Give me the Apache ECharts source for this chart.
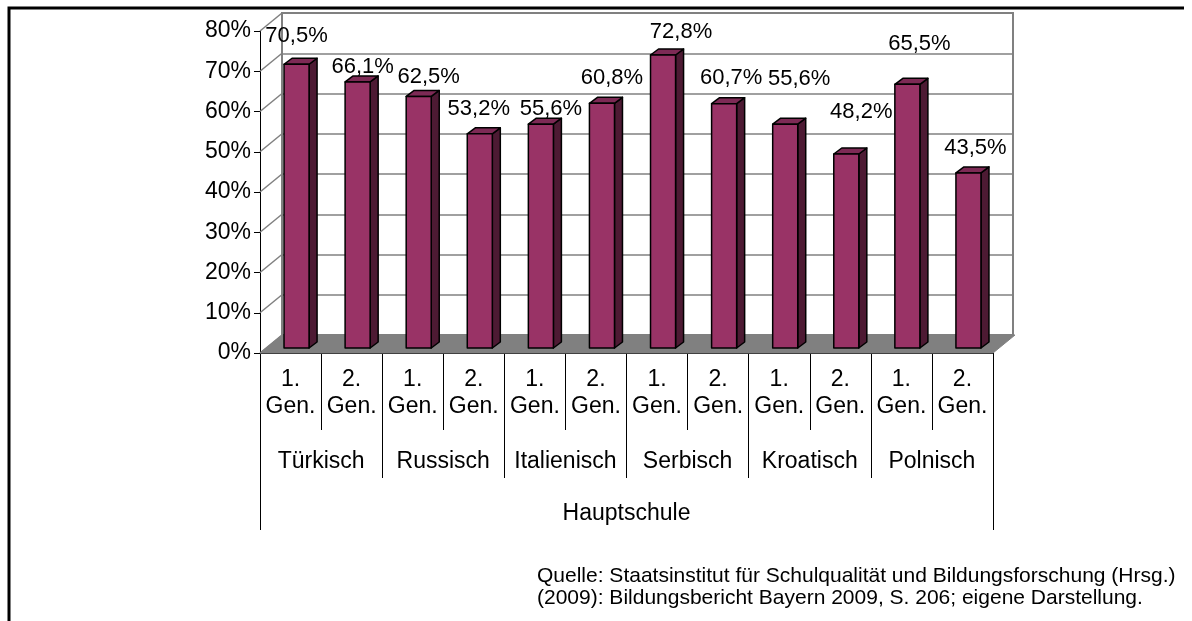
<!DOCTYPE html>
<html>
<head>
<meta charset="utf-8">
<script src="https://cdn.jsdelivr.net/npm/echarts@6/dist/echarts.min.js"></script>
<style>
  html, body { margin: 0; background: #fff; }
  #chart { width: 1192px; height: 621px; }
</style>
</head>
<body>
<div id="chart"></div>
<script>
  const groups = ['Türkisch', 'Russisch', 'Italienisch', 'Serbisch', 'Kroatisch', 'Polnisch'];
  const generations = ['1. Gen.', '2. Gen.'];
  const schoolType = ['Hauptschule'];
  const values = [70.5, 66.1, 62.5, 53.2, 55.6, 60.8, 72.8, 60.7, 55.6, 48.2, 65.5, 43.5];
  const yTicks = [0, 10, 20, 30, 40, 50, 60, 70, 80];
  const sourceLines = [
    'Quelle: Staatsinstitut für Schulqualität und Bildungsforschung (Hrsg.)',
    '(2009): Bildungsbericht Bayern 2009, S. 206; eigene Darstellung.'
  ];

  // label nudges, as placed in the original chart
  const labelShift = [[0, -28], [5, -15], [10, -20], [-1, -25], [10, -15], [10, -25],
    [18, -23], [7, -26], [14, -45], [15, -42], [12, -40], [7, -25]];

  const categories = [];
  groups.forEach(() => generations.forEach(g => categories.push(g)));

  const FONT = 'Liberation Sans, Arial, sans-serif';
  const DEPTH = [22, -18];   // front -> back wall
  const BAR_DEPTH = [8, -6];

  let myChart = echarts.init(document.getElementById('chart'));

  myChart.setOption({
    animation: false,
    textStyle: {fontFamily: FONT, color: '#000'},
    title: {
      text: sourceLines.join('\n'),
      left: 537,
      top: 565,
      padding: 0,
      textStyle: {fontSize: 21, fontWeight: 'normal', lineHeight: 22, color: '#000', fontFamily: FONT}
    },
    graphic: [{
      type: 'polyline',
      shape: {points: [[9, 621], [9, 8], [1184, 8]]},
      style: {stroke: '#000', lineWidth: 3, fill: null}
    }],
    grid: [
      {left: 282, top: 13, width: 731, height: 322, show: true, backgroundColor: '#fff', borderColor: '#808080', borderWidth: 2},
      {left: 260, top: 31, width: 733, height: 322},
      {left: 266, top: 26, width: 733, height: 322}
    ],
    xAxis: [
      {gridIndex: 0, type: 'category', data: categories, show: false},
      {
        gridIndex: 1, type: 'category', data: categories, position: 'bottom',
        axisLine: {show: true, lineStyle: {color: '#000', width: 1}},
        axisTick: {show: true, interval: 0, length: 77, lineStyle: {color: '#000'}},
        axisLabel: {interval: 0, margin: 13, fontSize: 23, lineHeight: 27, color: '#000',
          formatter: v => v.replace(' ', '\n')}
      },
      {
        gridIndex: 1, type: 'category', data: groups, position: 'bottom', offset: 0,
        axisLine: {show: false},
        axisTick: {show: true, interval: 0, length: 125, lineStyle: {color: '#000'}},
        axisLabel: {interval: 0, margin: 97, fontSize: 23, color: '#000'}
      },
      {
        gridIndex: 1, type: 'category', data: schoolType, position: 'bottom', offset: 0,
        axisLine: {show: false},
        axisTick: {show: true, interval: 0, length: 177, lineStyle: {color: '#000'}},
        axisLabel: {interval: 0, margin: 149, fontSize: 23, color: '#000'}
      },
      {gridIndex: 2, type: 'category', data: categories, show: false}
    ],
    yAxis: [
      {
        gridIndex: 0, type: 'value', min: 0, max: 80, interval: 10,
        axisLine: {show: false}, axisTick: {show: false}, axisLabel: {show: false},
        splitLine: {show: true, lineStyle: {color: '#808080', width: 1.5}}
      },
      {
        gridIndex: 1, type: 'value', min: 0, max: 80, interval: 10,
        axisLine: {show: true, lineStyle: {color: '#000', width: 1}},
        axisTick: {show: true, length: 6, lineStyle: {color: '#000'}},
        axisLabel: {margin: 9, fontSize: 23, color: '#000', formatter: '{value}%'},
        splitLine: {show: false}
      },
      {gridIndex: 2, type: 'value', min: 0, max: 80, show: false}
    ],
    series: [
      {
        // floor
        type: 'custom', xAxisIndex: 1, yAxisIndex: 1, z: 3, silent: true,
        data: [[0, 0]],
        renderItem(params, api) {
          const c = params.coordSys;
          const yb = api.coord([0, 0])[1];
          return {
            type: 'polygon',
            shape: {points: [[c.x, yb], [c.x + c.width, yb],
              [c.x + c.width + DEPTH[0], yb + DEPTH[1]], [c.x + DEPTH[0], yb + DEPTH[1]]]},
            style: {fill: '#808080', stroke: '#808080', lineWidth: 1}
          };
        }
      },
      {
        // side wall grid lines from the front axis to the back wall
        type: 'custom', xAxisIndex: 1, yAxisIndex: 1, z: 3, silent: true,
        data: yTicks.map(v => [0, v]),
        renderItem(params, api) {
          const x0 = params.coordSys.x;
          const y = api.coord([0, api.value(1)])[1];
          return {
            type: 'line',
            shape: {x1: x0, y1: y, x2: x0 + DEPTH[0], y2: y + DEPTH[1]},
            style: {stroke: '#808080', lineWidth: 1.5}
          };
        }
      },
      {
        // 3d bars
        type: 'custom', xAxisIndex: 4, yAxisIndex: 2, z: 5, silent: true,
        data: values.map((v, i) => [i, v]),
        renderItem(params, api) {
          const i = api.value(0), v = api.value(1);
          const top = api.coord([i, v]);
          const bottom = api.coord([i, 0]);
          const w = api.size([1, 0])[0] * 0.41;
          const x1 = top[0] - w / 2, x2 = top[0] + w / 2;
          const dx = BAR_DEPTH[0], dy = BAR_DEPTH[1];
          const edge = {stroke: '#000', lineWidth: 1.5, lineJoin: 'round'};
          const sh = labelShift[params.dataIndex];
          return {
            type: 'group',
            children: [
              {type: 'polygon', shape: {points: [[x2, top[1]], [x2 + dx, top[1] + dy], [x2 + dx, bottom[1] + dy], [x2, bottom[1]]]},
                style: Object.assign({fill: '#4d1a33'}, edge)},
              {type: 'polygon', shape: {points: [[x1, top[1]], [x1 + dx, top[1] + dy], [x2 + dx, top[1] + dy], [x2, top[1]]]},
                style: Object.assign({fill: '#7d2a55'}, edge)},
              {type: 'rect', shape: {x: x1, y: top[1], width: w, height: bottom[1] - top[1]},
                style: Object.assign({fill: '#993366'}, edge)},
              {type: 'text', z2: 10, style: {
                text: v.toFixed(1).replace('.', ',') + '%',
                x: top[0] + sh[0], y: top[1] + sh[1],
                align: 'center', verticalAlign: 'middle',
                fontSize: 22, fontFamily: FONT, fill: '#000'}}
            ]
          };
        }
      }
    ]
  });
</script>
</body>
</html>
